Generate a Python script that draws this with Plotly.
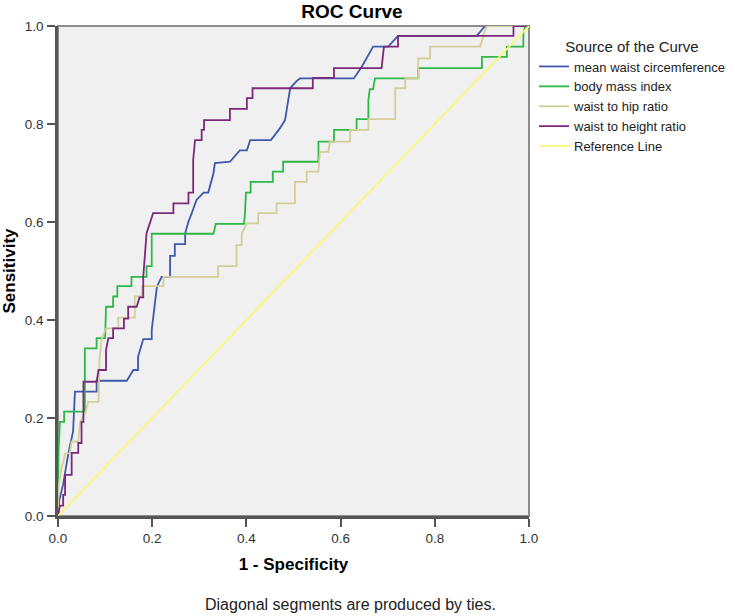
import plotly.graph_objects as go

# ---------------- data ----------------
series_names = ["mean waist circemference", "body mass index", "waist to hip ratio",
                "waist to height ratio", "Reference Line"]
series_colors = ["#3E58AC", "#2EB848", "#D3CE97", "#7C287D", "#FBF873"]

waist_circ_fpr = [0.000, 0.003, 0.011, 0.022, 0.032, 0.036, 0.082, 0.082, 0.146, 0.160, 0.170, 0.170,
                  0.181, 0.199, 0.199, 0.210, 0.220, 0.238, 0.238, 0.248, 0.248, 0.270, 0.270, 0.277,
                  0.284, 0.294, 0.301, 0.309, 0.319, 0.323, 0.330, 0.333, 0.365, 0.386, 0.401, 0.408,
                  0.452, 0.471, 0.482, 0.486, 0.493, 0.507, 0.514, 0.628, 0.645, 0.669, 0.701, 0.722,
                  0.889, 0.907, 1.000]
waist_circ_tpr = [0.000, 0.033, 0.065, 0.128, 0.172, 0.254, 0.254, 0.276, 0.276, 0.298, 0.298, 0.325,
                  0.361, 0.361, 0.380, 0.468, 0.488, 0.488, 0.531, 0.531, 0.555, 0.555, 0.577, 0.601,
                  0.618, 0.645, 0.652, 0.660, 0.660, 0.676, 0.699, 0.720, 0.723, 0.746, 0.746, 0.767,
                  0.767, 0.791, 0.808, 0.832, 0.873, 0.888, 0.893, 0.893, 0.917, 0.958, 0.958, 0.980,
                  0.980, 1.000, 1.000]

bmi_fpr = [0.000, 0.001, 0.004, 0.013, 0.013, 0.057, 0.057, 0.082, 0.082, 0.100, 0.102, 0.117, 0.117,
           0.126, 0.126, 0.156, 0.156, 0.188, 0.188, 0.199, 0.199, 0.330, 0.335, 0.395, 0.397, 0.399,
           0.409, 0.409, 0.456, 0.456, 0.478, 0.478, 0.553, 0.553, 0.586, 0.586, 0.634, 0.634, 0.659,
           0.659, 0.662, 0.669, 0.673, 0.765, 0.765, 0.900, 0.900, 0.953, 0.953, 0.988, 0.988, 0.992,
           1.000]
bmi_tpr = [0.000, 0.128, 0.192, 0.192, 0.213, 0.213, 0.342, 0.342, 0.363, 0.363, 0.427, 0.427, 0.448,
           0.448, 0.469, 0.469, 0.488, 0.488, 0.510, 0.510, 0.576, 0.576, 0.596, 0.596, 0.618, 0.660,
           0.660, 0.682, 0.682, 0.703, 0.703, 0.723, 0.723, 0.764, 0.764, 0.788, 0.788, 0.810, 0.810,
           0.849, 0.871, 0.871, 0.893, 0.893, 0.914, 0.914, 0.937, 0.937, 0.958, 0.958, 0.985, 1.000,
           1.000]

whr_fpr = [0.000, 0.001, 0.008, 0.011, 0.015, 0.025, 0.029, 0.043, 0.047, 0.059, 0.064, 0.086, 0.088,
           0.093, 0.102, 0.128, 0.128, 0.163, 0.163, 0.178, 0.178, 0.224, 0.224, 0.340, 0.340, 0.379,
           0.379, 0.390, 0.390, 0.401, 0.425, 0.425, 0.464, 0.464, 0.503, 0.503, 0.528, 0.528, 0.553,
           0.556, 0.574, 0.577, 0.620, 0.620, 0.659, 0.659, 0.716, 0.716, 0.737, 0.737, 0.765, 0.765,
           0.790, 0.790, 0.896, 0.910, 1.000]
whr_tpr = [0.000, 0.060, 0.101, 0.108, 0.128, 0.128, 0.152, 0.152, 0.192, 0.213, 0.233, 0.233, 0.318,
           0.363, 0.383, 0.383, 0.405, 0.405, 0.448, 0.448, 0.469, 0.469, 0.488, 0.488, 0.510, 0.510,
           0.553, 0.553, 0.577, 0.597, 0.597, 0.618, 0.618, 0.638, 0.638, 0.682, 0.682, 0.703, 0.703,
           0.743, 0.743, 0.764, 0.764, 0.788, 0.788, 0.810, 0.810, 0.873, 0.873, 0.893, 0.893, 0.934,
           0.934, 0.958, 0.958, 1.000, 1.000]

whtr_fpr = [0.000, 0.004, 0.011, 0.011, 0.015, 0.015, 0.029, 0.029, 0.043, 0.043, 0.050, 0.050, 0.054,
            0.054, 0.082, 0.086, 0.102, 0.102, 0.107, 0.117, 0.117, 0.140, 0.140, 0.149, 0.149, 0.167,
            0.173, 0.181, 0.181, 0.188, 0.202, 0.245, 0.245, 0.277, 0.277, 0.287, 0.287, 0.291, 0.305,
            0.305, 0.310, 0.310, 0.365, 0.365, 0.401, 0.401, 0.413, 0.413, 0.541, 0.541, 0.586, 0.586,
            0.687, 0.692, 0.722, 0.722, 0.967, 0.967, 1.000]
whtr_tpr = [0.000, 0.021, 0.021, 0.043, 0.043, 0.084, 0.084, 0.129, 0.129, 0.149, 0.149, 0.192, 0.192,
            0.274, 0.274, 0.298, 0.298, 0.339, 0.363, 0.363, 0.383, 0.383, 0.403, 0.403, 0.427, 0.427,
            0.446, 0.446, 0.488, 0.577, 0.618, 0.618, 0.638, 0.638, 0.660, 0.660, 0.727, 0.767, 0.767,
            0.788, 0.788, 0.808, 0.808, 0.831, 0.831, 0.853, 0.853, 0.873, 0.873, 0.894, 0.894, 0.914,
            0.914, 0.958, 0.958, 0.980, 0.980, 1.000, 1.000]

reference_fpr = [0.0, 1.0]
reference_tpr = [0.0, 1.0]

tick_vals = [0.0, 0.2, 0.4, 0.6, 0.8, 1.0]
tick_text = ["0.0", "0.2", "0.4", "0.6", "0.8", "1.0"]

chart_title = "ROC Curve"
x_title = "1 - Specificity"
y_title = "Sensitivity"
legend_title = "Source of the Curve"
footnote = "Diagonal segments are produced by ties."

# ---------------- figure ----------------
FONT = "Liberation Sans, Arial, sans-serif"
xs = [waist_circ_fpr, bmi_fpr, whr_fpr, whtr_fpr, reference_fpr]
ys = [waist_circ_tpr, bmi_tpr, whr_tpr, whtr_tpr, reference_tpr]

fig = go.Figure()
for name, color, x, y in zip(series_names, series_colors, xs, ys):
    fig.add_trace(go.Scatter(x=x, y=y, mode="lines", name=name,
                             line=dict(color=color, width=1.8)))

axis_common = dict(
    range=[0, 1], tickmode="array", tickvals=tick_vals, ticktext=tick_text,
    showgrid=False, zeroline=False, showline=True, linecolor="#555555", linewidth=2.5,
    ticks="outside", ticklen=8, tickwidth=2, tickcolor="#555555", automargin=False,
    tickfont=dict(family=FONT, size=13.5, color="#333333"),
)

fig.update_layout(
    width=735, height=616,
    margin=dict(l=58, r=206, t=26, b=100, pad=0, autoexpand=False),
    paper_bgcolor="white", plot_bgcolor="#F0F0F0",
    font=dict(family=FONT, color="#222222"),
    title=dict(text=chart_title, x=352 / 735, xref="container", xanchor="center",
               y=1 - 11 / 616, yref="container", yanchor="middle", automargin=False,
               font=dict(family=FONT, size=19, color="#000000", weight="bold")),
    xaxis=dict(axis_common,
               title=dict(text=x_title, standoff=14,
                          font=dict(family=FONT, size=17, color="#000000", weight="bold"))),
    yaxis=dict(axis_common, ticklabelstandoff=1,
               title=dict(text=y_title, standoff=14,
                          font=dict(family=FONT, size=17, color="#000000", weight="bold"))),
    showlegend=True,
    legend=dict(x=(534 - 58) / 471, xanchor="left", y=1 - (32 - 26) / 490, yanchor="top",
                bgcolor="rgba(0,0,0,0)", borderwidth=0,
                font=dict(family=FONT, size=13, color="#222222"),
                title=dict(text=legend_title, side="top center",
                           font=dict(family=FONT, size=15, color="#222222")),
                itemclick=False, itemdoubleclick=False),
    shapes=[dict(type="rect", xref="paper", yref="paper", x0=0, y0=0, x1=1, y1=1,
                 line=dict(color="#8C8C8C", width=2), layer="below")],
    annotations=[dict(text=footnote, xref="paper", yref="paper", x=(350 - 58) / 471,
                      y=(516 - 604) / 490, xanchor="center", yanchor="middle", showarrow=False,
                      font=dict(family=FONT, size=16, color="#222222"))],
)

fig.write_html("out.html", config={"displayModeBar": False},
               post_script="document.body.style.margin='0';document.body.style.overflow='hidden';")
